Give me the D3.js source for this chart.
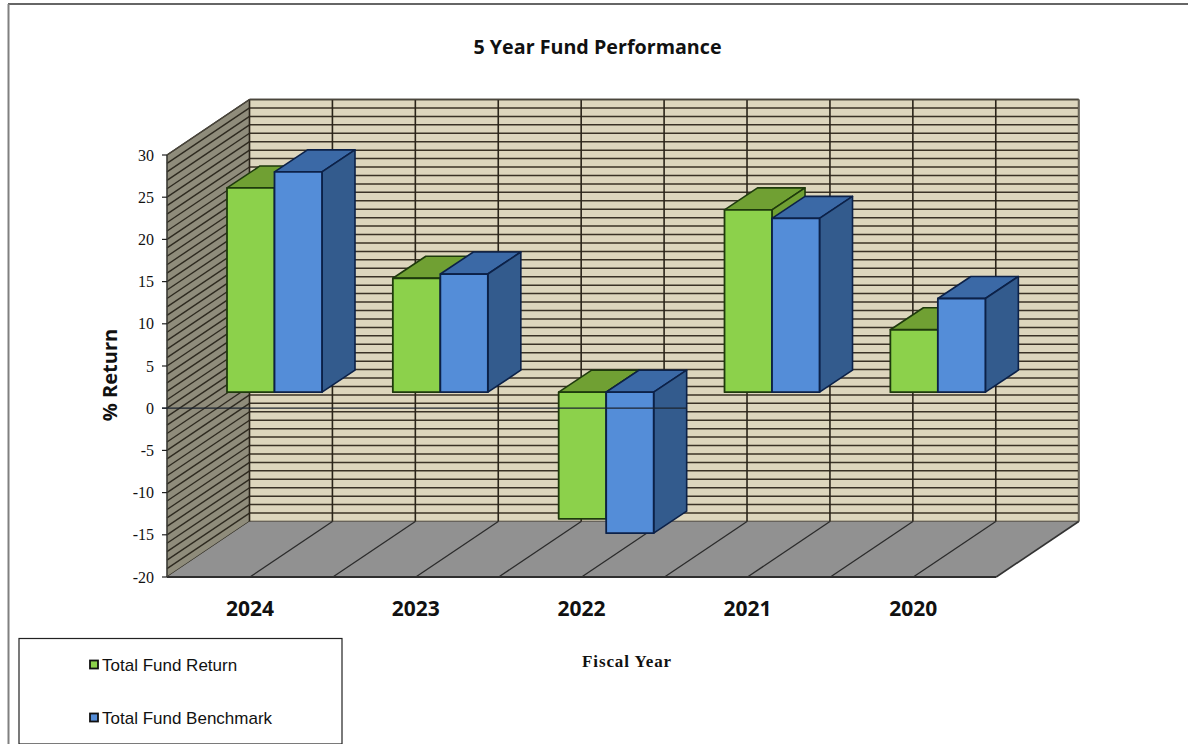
<!DOCTYPE html>
<html><head><meta charset="utf-8">
<script src="https://cdn.jsdelivr.net/npm/d3@7/dist/d3.min.js"></script>
<style>html,body{margin:0;padding:0;background:#fff}svg{display:block}</style>
</head><body><svg id="c" width="1188" height="744"></svg>
<script>
const categories = ["2024","2023","2022","2021","2020"];
const fundReturn = [24.2,13.5,-15.0,21.6,7.4];
const fundBenchmark = [26.1,14.0,-16.7,20.6,11.1];
const yTicks = [30,25,20,15,10,5,0,-5,-10,-15,-20];
const seriesNames = ["Total Fund Return","Total Fund Benchmark"];

const svg = d3.select("#c");
const x = d3.scaleBand().domain(categories).range([167,996.2]);
const y = d3.scaleLinear().domain([-20,30]).range([577,155]);
const wallDx = 82.5, wallDy = -55.5;
const barShiftY = -16, barInset = 60, barW = 47.5, barDx = 33, barDy = -22;
const GRID = "#3a3226", EDGE = "#4a463c";
const poly = (pts, fill, stroke, sw) => svg.append("polygon")
  .attr("points", pts.map(p=>p.join(",")).join(" "))
  .attr("fill", fill).attr("stroke", stroke||"none").attr("stroke-width", sw||0).attr("stroke-linejoin","round");
const line = (x1,y1,x2,y2,stroke,sw) => svg.append("line")
  .attr("x1",x1).attr("y1",y1).attr("x2",x2).attr("y2",y2).attr("stroke",stroke).attr("stroke-width",sw);

// frame
line(8,4,1188,4,"#333",1.5);
line(8.5,4,8.5,744,"#808080",2);

const [x0,x1] = x.range(), yb = y(-20), yt = y(30);
// walls and floor
poly([[x0+wallDx,yt+wallDy],[x1+wallDx,yt+wallDy],[x1+wallDx,yb+wallDy],[x0+wallDx,yb+wallDy]],"#ddd6bd");
poly([[x0,yt],[x0+wallDx,yt+wallDy],[x0+wallDx,yb+wallDy],[x0,yb]],"#8f8c7b");
// minor grid every 1 unit
d3.range(-20,31).forEach(v=>{
  line(x0+wallDx,y(v)+wallDy,x1+wallDx,y(v)+wallDy,GRID,1.5);
  line(x0,y(v),x0+wallDx,y(v)+wallDy,"#2e2a20",1.4);
});
poly([[x0,yb],[x0+wallDx,yb+wallDy],[x1+wallDx,yb+wallDy],[x1,yb]],"#919191");
// half-category lines
const halfSteps = d3.range(0,categories.length*2+1).map(i=>x0+i*x.bandwidth()/2);
halfSteps.forEach((px,i)=>{
  line(px+wallDx,yt+wallDy,px+wallDx,yb+wallDy,"#2a2419",1.6);
  if(i>0 && i<halfSteps.length-1) line(px,yb,px+wallDx,yb+wallDy,"#2b2b2b",1.3);
});
// outlines
line(x0,yt,x0+wallDx,yt+wallDy,EDGE,1.4);
line(x0+wallDx,yt+wallDy,x1+wallDx,yt+wallDy,EDGE,1.6);
line(x1+wallDx,yt+wallDy,x1+wallDx,yb+wallDy,"#6b675a",1.6);
line(x1,yb,x1+wallDx,yb+wallDy,"#333",1.6);
line(x0,yb,x1,yb,"#2e2e2e",2);
line(x0,yt,x0,yb,"#3a3a34",1.6);

// y axis ticks
yTicks.forEach(v=>{
  line(x0-5,y(v),x0,y(v),"#222",1.2);
  svg.append("text").attr("x",x0-13).attr("y",y(v)+5.5).attr("text-anchor","end")
    .attr("font-family","Liberation Serif").attr("font-size",16).attr("fill","#111").text(v);
});

// 3D bars
function bar(left,val,front,topC,side,edge){
  const base = y(0)+barShiftY, end = y(val)+barShiftY;
  const top = Math.min(base,end), bottom = Math.max(base,end), right = left+barW;
  poly([[left,top],[left+barDx,top+barDy],[right+barDx,top+barDy],[right,top]],topC,edge,1.6);
  poly([[right,top],[right+barDx,top+barDy],[right+barDx,bottom+barDy],[right,bottom]],side,edge,1.6);
  poly([[left,top],[right,top],[right,bottom],[left,bottom]],front,edge,1.8);
}
categories.forEach((c,i)=>{
  const l = x(c)+barInset;
  bar(l,fundReturn[i],"#8cd14b","#70a033","#70a033","#1e3a0c");
  bar(l+barW,fundBenchmark[i],"#548dd8","#3b69a6","#335b8d","#0c2148");
});
// zero plane line
line(x0-5,y(0),x(categories[2])+barInset+2*barW+barDx,y(0),"#1c2530",1.2);

// category labels
categories.forEach(c=>{
  svg.append("text").attr("x",x(c)+x.bandwidth()/2).attr("y",616).attr("text-anchor","middle")
   .attr("font-family","Open Sans").attr("font-weight",700).attr("font-size",21).attr("fill","#111").text(c);
});
// titles
svg.append("text").attr("x",597.5).attr("y",54).attr("text-anchor","middle")
  .attr("font-family","Open Sans").attr("font-weight",700).attr("font-size",19.7).attr("fill","#111").text("5 Year Fund Performance");
svg.append("text").attr("transform","translate(116.5,375) rotate(-90)").attr("text-anchor","middle")
  .attr("font-family","Open Sans").attr("font-weight",700).attr("font-size",20).attr("fill","#111").text("% Return");
svg.append("text").attr("x",627).attr("y",667).attr("text-anchor","middle")
  .attr("font-family","Liberation Serif").attr("font-weight",700).attr("font-size",17).attr("letter-spacing",0.9).attr("fill","#111").text("Fiscal Year");

// legend
svg.append("rect").attr("x",19).attr("y",638.5).attr("width",323).attr("height",105.5)
  .attr("fill","#fff").attr("stroke","#222").attr("stroke-width",1.2);
[["#8cd14b",665],["#548dd8",718]].forEach(([col,ly],i)=>{
  svg.append("rect").attr("x",90).attr("y",ly-4.5).attr("width",8).attr("height",8)
    .attr("fill",col).attr("stroke","#111").attr("stroke-width",1.8);
  svg.append("text").attr("x",102).attr("y",ly+5.5).attr("font-family","Liberation Sans")
    .attr("font-size",17).attr("fill","#111").text(seriesNames[i]);
});
</script></body></html>
